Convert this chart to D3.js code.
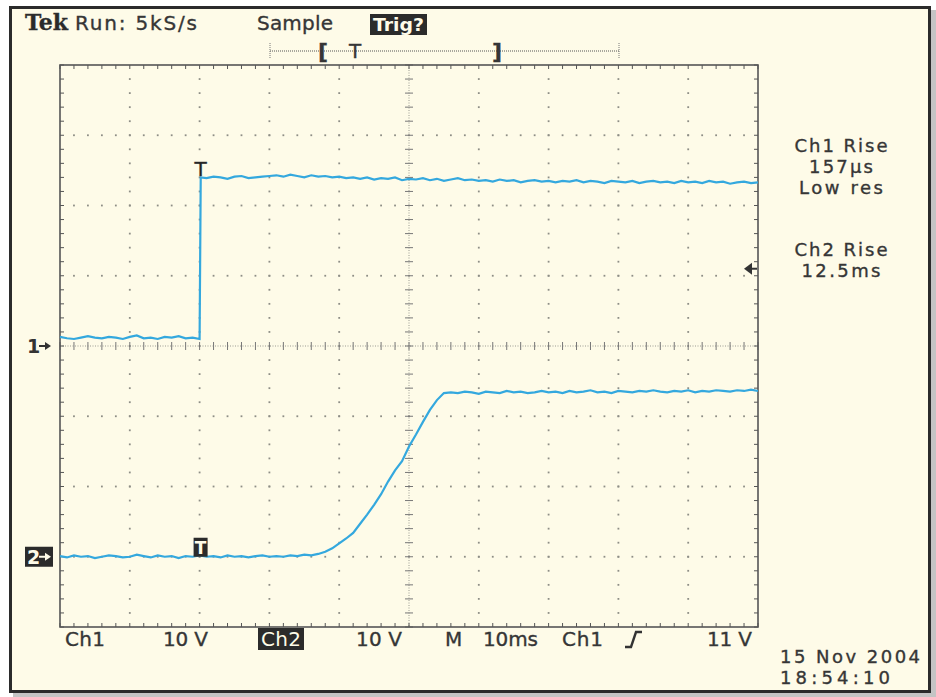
<!DOCTYPE html>
<html>
<head>
<meta charset="utf-8">
<script src="https://cdn.jsdelivr.net/npm/d3@7"></script>
<style>
    body { margin: 0; background: #fff; }
    text { font-family: "DejaVu Sans", sans-serif; fill: #363636; stroke: #363636; stroke-width: 0.35px; }
</style>
</head>
<body>
<svg id="scope" width="936" height="697"></svg>
<script>
// sample times in ms (10 ms/div, trigger 2 div from the left)
const ch2Time = d3.range(-20, 81);
const ch1Time = [...d3.range(-20, 1), 0.16, ...d3.range(1, 81)];

// Ch1 volts (10 V/div)
const ch1Volts = [
    1.3, 1.1, 1.0, 1.2, 1.4, 1.2, 1.1, 1.3, 1.2, 1.0,
    1.3, 1.5, 1.1, 1.2, 1.0, 1.3, 1.2, 1.4, 1.1, 1.2, 1.0,
    24.0,
    23.9, 24.1, 24.0, 23.8, 24.1, 24.2, 23.9, 24.0, 24.1, 24.2,
    24.3, 24.1, 24.4, 24.2, 24.0, 24.3, 24.1, 24.2, 24.0, 24.1,
    23.9, 24.0, 23.8, 24.0, 23.7, 23.9, 23.8, 24.0, 23.6, 23.8,
    23.7, 23.9, 23.6, 23.8, 23.5, 23.7, 23.9, 23.6, 23.7, 23.5,
    23.6, 23.4, 23.7, 23.5, 23.6, 23.3, 23.5, 23.6, 23.4, 23.5,
    23.3, 23.5, 23.4, 23.6, 23.3, 23.5, 23.4, 23.2, 23.5, 23.4,
    23.3, 23.5, 23.2, 23.4, 23.5, 23.3, 23.4, 23.2, 23.5, 23.3,
    23.4, 23.2, 23.5, 23.3, 23.4, 23.1, 23.3, 23.4, 23.2, 23.3
];

// Ch2 volts (10 V/div)
const ch2Volts = [
    0.1, -0.1, 0.2, 0.0, 0.1, -0.2, 0.0, 0.2, 0.1, -0.1,
    0.0, 0.3, 0.1, -0.1, 0.2, 0.0, 0.1, -0.2, 0.1, 0.0,
    0.2,
    0.0, 0.1, -0.1, 0.2, 0.0, 0.1, -0.1, 0.1, 0.2, 0.0,
    0.1, 0.0, 0.2, 0.1, 0.3, 0.2, 0.4, 0.7, 1.2, 1.9,
    2.6, 3.4, 4.7, 6.0, 7.4, 8.9, 10.7, 12.3, 13.6, 15.7,
    17.4, 19.2, 20.9, 22.3, 23.3, 23.4, 23.3, 23.5, 23.4, 23.2,
    23.5, 23.4, 23.3, 23.6, 23.4, 23.5, 23.3, 23.4, 23.6, 23.4,
    23.5, 23.3, 23.6, 23.4, 23.5, 23.7, 23.4, 23.5, 23.3, 23.6,
    23.5, 23.4, 23.6, 23.5, 23.7, 23.5, 23.4, 23.6, 23.5, 23.7,
    23.4, 23.6, 23.5, 23.7, 23.6, 23.5, 23.7, 23.6, 23.8, 23.6
];

const trigLevel = 11;   // V on Ch1
const trigTime = 0;     // ms

const bottomLabels = [
    { text: "Ch1", x: 65, w: 40 },
    { text: "10 V", x: 163, w: 45 },
    { text: "Ch2", x: 261, w: 40, inverse: true },
    { text: "10 V", x: 356, w: 46 },
    { text: "M", x: 445, w: 16 },
    { text: "10ms", x: 483, w: 55 },
    { text: "Ch1", x: 562, w: 41 },
    { text: "11 V", x: 707, w: 45 }
];
const sideLines = [
    { text: "Ch1 Rise", y: 152, w: 93 },
    { text: "157\u00b5s", y: 173, w: 64 },
    { text: "Low res", y: 194, w: 84 },
    { text: "Ch2 Rise", y: 256, w: 93 },
    { text: "12.5ms", y: 277, w: 79 }
];
const dateLines = [
    { text: "15 Nov 2004", y: 663, w: 140 },
    { text: "18:54:10", y: 684, w: 110 }
];

const svg = d3.select("#scope");
const trace = "#34a8de", dotCol = "#8e8e86", cream = "#fefbe8", ink = "#2b2b2b";

// outer frame with shadow
svg.append("rect").attr("x", 13).attr("y", 10).attr("width", 923).attr("height", 687).attr("fill", "#c4c4c4");
svg.append("rect").attr("x", 10.5).attr("y", 7.5).attr("width", 919).attr("height", 684)
    .attr("fill", cream).attr("stroke", ink).attr("stroke-width", 3);

const x = d3.scaleLinear().domain([-20, 80]).range([60, 758]);
const y1 = d3.scaleLinear().domain([-40, 40]).range([627, 65]);
const y2 = d3.scaleLinear().domain([-10, 70]).range([627, 65]);

const xMajor = d3.range(-20, 81, 10), xMinor = d3.range(-20, 80.01, 2);
const yMajor = d3.range(-40, 41, 10), yMinor = d3.range(-40, 40.01, 2);

// graticule dots
const grid = svg.append("g");
const dots = [];
xMajor.filter(t => t > -20 && t < 80 && t !== 30).forEach(t =>
    yMinor.filter(v => v > -40 && v < 40).forEach(v => dots.push([x(t), y1(v)])));
yMajor.filter(v => v > -40 && v < 40 && v !== 0).forEach(v =>
    xMinor.filter(t => t > -20 && t < 80).forEach(t => dots.push([x(t), y1(v)])));
grid.selectAll("rect.dot").data(dots).join("rect").attr("class", "dot")
    .attr("x", d => d[0] - 0.9).attr("y", d => d[1] - 0.9)
    .attr("width", 1.8).attr("height", 1.8).attr("fill", dotCol);

// centre lines with ticks
grid.append("line").attr("x1", x(30)).attr("x2", x(30)).attr("y1", y1(40)).attr("y2", y1(-40))
    .attr("stroke", "#9a9a92").attr("stroke-dasharray", "1,1.5");
grid.append("line").attr("x1", x(-20)).attr("x2", x(80)).attr("y1", y1(0)).attr("y2", y1(0))
    .attr("stroke", "#9a9a92").attr("stroke-dasharray", "1,1.5");
grid.selectAll("line.cy").data(yMinor).join("line").attr("class", "cy")
    .attr("x1", x(30) - 4).attr("x2", x(30) + 4).attr("y1", d => y1(d)).attr("y2", d => y1(d))
    .attr("stroke", "#777");
grid.selectAll("line.cx").data(xMinor).join("line").attr("class", "cx")
    .attr("y1", y1(0) - 4).attr("y2", y1(0) + 4).attr("x1", d => x(d)).attr("x2", d => x(d))
    .attr("stroke", "#777");

// border ticks
const tickLen = 4;
grid.selectAll("line.tt").data(xMinor).join("line").attr("class", "tt")
    .attr("x1", d => x(d)).attr("x2", d => x(d)).attr("y1", y1(40)).attr("y2", y1(40) + tickLen).attr("stroke", "#555");
grid.selectAll("line.tb").data(xMinor).join("line").attr("class", "tb")
    .attr("x1", d => x(d)).attr("x2", d => x(d)).attr("y1", y1(-40)).attr("y2", y1(-40) - tickLen).attr("stroke", "#555");
grid.selectAll("line.tl").data(yMinor).join("line").attr("class", "tl")
    .attr("y1", d => y1(d)).attr("y2", d => y1(d)).attr("x1", x(-20)).attr("x2", x(-20) + tickLen).attr("stroke", "#555");
grid.selectAll("line.tr").data(yMinor).join("line").attr("class", "tr")
    .attr("y1", d => y1(d)).attr("y2", d => y1(d)).attr("x1", x(80)).attr("x2", x(80) - tickLen).attr("stroke", "#555");

svg.append("rect").attr("x", x(-20)).attr("y", y1(40)).attr("width", x(80) - x(-20)).attr("height", y1(-40) - y1(40))
    .attr("fill", "none").attr("stroke", "#555").attr("stroke-width", 1.6);

// traces
const line1 = d3.line().x(d => x(d[0])).y(d => y1(d[1]));
const line2 = d3.line().x(d => x(d[0])).y(d => y2(d[1]));
svg.append("path").datum(d3.zip(ch1Time, ch1Volts)).attr("d", line1)
    .attr("fill", "none").attr("stroke", trace).attr("stroke-width", 2.2);
svg.append("path").datum(d3.zip(ch2Time, ch2Volts)).attr("d", line2)
    .attr("fill", "none").attr("stroke", trace).attr("stroke-width", 2.2);

// trigger markers on traces
svg.append("text").attr("x", x(trigTime) + 1).attr("y", y1(ch1Volts[21]) - 1)
    .attr("text-anchor", "middle").attr("font-size", 20).style("fill", "#222").text("T");
svg.append("rect").attr("x", x(trigTime) - 6).attr("y", y2(0) - 19).attr("width", 14).attr("height", 19).attr("fill", ink);
svg.append("text").attr("x", x(trigTime) + 1).attr("y", y2(0) - 3)
    .attr("text-anchor", "middle").attr("font-size", 17).attr("font-weight", "bold")
    .style("fill", cream).style("stroke", "none").text("T");

// ground markers
function groundMark(label, yPos, inverse) {
    const col = inverse ? cream : "#333";
    if (inverse) svg.append("rect").attr("x", 25).attr("y", yPos - 10).attr("width", 28).attr("height", 20).attr("fill", ink);
    svg.append("text").attr("x", 27).attr("y", yPos + 7).attr("font-size", 19).attr("font-weight", "bold")
        .style("fill", col).style("stroke", "none").text(label);
    svg.append("path").attr("d", `M39,${yPos} L48,${yPos}`).attr("stroke", col).attr("stroke-width", 2);
    svg.append("path").attr("d", `M45,${yPos - 4} L51,${yPos} L45,${yPos + 4}Z`).attr("fill", col);
}
groundMark("1", y1(0), false);
groundMark("2", y2(0), true);

// trigger level indicator
const ty = y1(trigLevel);
svg.append("path").attr("d", `M744,${ty} L752,${ty - 6} L752,${ty + 6}Z`).attr("fill", "#333");
svg.append("line").attr("x1", 752).attr("x2", 757).attr("y1", ty).attr("y2", ty).attr("stroke", "#333").attr("stroke-width", 2);

// header
svg.append("text").attr("x", 25).attr("y", 30).attr("font-size", 22).attr("font-weight", "bold")
    .style("font-family", "'DejaVu Serif', serif").style("fill", "#2a2a2a")
    .attr("textLength", 43).attr("lengthAdjust", "spacingAndGlyphs").text("Tek");
svg.append("text").attr("x", 75).attr("y", 30).attr("font-size", 20)
    .attr("textLength", 122).attr("lengthAdjust", "spacing").text("Run: 5kS/s");
svg.append("text").attr("x", 257).attr("y", 30).attr("font-size", 20)
    .attr("textLength", 76).attr("lengthAdjust", "spacing").text("Sample");
svg.append("rect").attr("x", 370).attr("y", 14).attr("width", 57).attr("height", 21).attr("fill", ink);
svg.append("text").attr("x", 373).attr("y", 31).attr("font-size", 18).attr("font-weight", "bold")
    .style("fill", cream).style("stroke", "none").attr("textLength", 51).attr("lengthAdjust", "spacingAndGlyphs").text("Trig?");

// record bar
svg.append("line").attr("x1", 270).attr("x2", 619).attr("y1", 51).attr("y2", 51)
    .attr("stroke", "#555").attr("stroke-dasharray", "1,1");
[270, 619].forEach(px => svg.append("line").attr("x1", px).attr("x2", px).attr("y1", 43).attr("y2", 59)
    .attr("stroke", "#777").attr("stroke-dasharray", "1,1"));
svg.append("text").attr("x", 318).attr("y", 59).attr("font-size", 22).attr("font-weight", "bold").text("[");
svg.append("text").attr("x", 355).attr("y", 58).attr("font-size", 20).attr("text-anchor", "middle").text("T");
svg.append("text").attr("x", 492).attr("y", 59).attr("font-size", 22).attr("font-weight", "bold").text("]");

// right-hand readouts
svg.selectAll("text.side").data(sideLines).join("text").attr("class", "side")
    .attr("x", d => 841 - d.w / 2).attr("y", d => d.y).attr("font-size", 18)
    .attr("textLength", d => d.w).attr("lengthAdjust", "spacing").text(d => d.text);

// bottom status line
const bl = svg.append("g");
bl.selectAll("rect").data(bottomLabels.filter(d => d.inverse)).join("rect")
    .attr("x", d => d.x - 3).attr("y", 628).attr("width", d => d.w + 6).attr("height", 22).attr("fill", ink);
bl.selectAll("text").data(bottomLabels).join("text")
    .attr("x", d => d.x).attr("y", 646).attr("font-size", 20)
    .attr("textLength", d => d.w).attr("lengthAdjust", "spacing")
    .style("fill", d => d.inverse ? cream : null).style("stroke", d => d.inverse ? "none" : null).text(d => d.text);
// rising-edge trigger symbol
bl.append("path").attr("d", "M625,647 L631,647 L636,632 L642,632")
    .attr("fill", "none").attr("stroke", "#333").attr("stroke-width", 2.4);

svg.selectAll("text.date").data(dateLines).join("text").attr("class", "date")
    .attr("x", 780).attr("y", d => d.y).attr("font-size", 18)
    .attr("textLength", d => d.w).attr("lengthAdjust", "spacing").text(d => d.text);
</script>
</body>
</html>
